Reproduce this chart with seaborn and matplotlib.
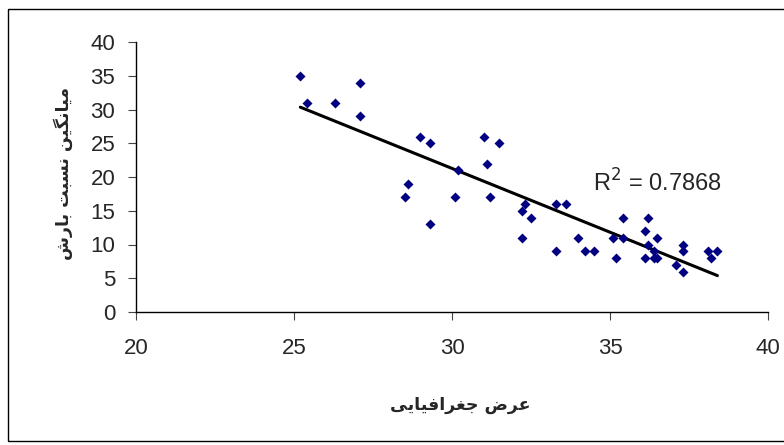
import numpy as np
import matplotlib
matplotlib.use('Agg')
import matplotlib.pyplot as plt
import seaborn as sns
from matplotlib.patches import Rectangle

# latitude (x) and mean precipitation ratio (y)
latitude = [25.2, 25.4, 26.3, 27.1, 27.1, 29.0, 29.3, 28.6, 28.5, 29.3,
            30.2, 30.1, 31.0, 31.1, 31.2, 31.5, 32.3, 32.2, 32.5, 33.3,
            33.6, 32.2, 33.3, 34.0, 34.2, 34.5, 35.2, 35.1, 35.4, 35.4,
            36.2, 36.1, 36.2, 36.5, 36.1, 36.4, 36.4, 36.5, 37.3, 37.3,
            37.1, 37.3, 38.1, 38.2, 38.4]
ratio = [35, 31, 31, 34, 29, 26, 25, 19, 17, 13,
         21, 17, 26, 22, 17, 25, 16, 15, 14, 16,
         16, 11, 9, 11, 9, 9, 8, 11, 11, 14,
         14, 12, 10, 11, 8, 9, 8, 8, 10, 9,
         7, 6, 9, 8, 9]

x_ticks = [20, 25, 30, 35, 40]
y_ticks = [0, 5, 10, 15, 20, 25, 30, 35, 40]
r2_label = 'R$^2$ = 0.7868'
x_title = 'عرض جغرافیایی'
y_title = 'میانگین نسبت بارش'

# minimal Arabic-script shaping (matplotlib has no shaping / bidi)
FORMS = {
    'ا': ('\uFE8D', '\uFE8E'),
    'ر': ('\uFEAD', '\uFEAE'),
    'ب': ('\uFE8F', '\uFE90', '\uFE91', '\uFE92'),
    'ت': ('\uFE95', '\uFE96', '\uFE97', '\uFE98'),
    'ج': ('\uFE9D', '\uFE9E', '\uFE9F', '\uFEA0'),
    'س': ('\uFEB1', '\uFEB2', '\uFEB3', '\uFEB4'),
    'ش': ('\uFEB5', '\uFEB6', '\uFEB7', '\uFEB8'),
    'ض': ('\uFEBD', '\uFEBE', '\uFEBF', '\uFEC0'),
    'ع': ('\uFEC9', '\uFECA', '\uFECB', '\uFECC'),
    'غ': ('\uFECD', '\uFECE', '\uFECF', '\uFED0'),
    'ف': ('\uFED1', '\uFED2', '\uFED3', '\uFED4'),
    'م': ('\uFEE1', '\uFEE2', '\uFEE3', '\uFEE4'),
    'ن': ('\uFEE5', '\uFEE6', '\uFEE7', '\uFEE8'),
    'ی': ('\uFEEF', '\uFEF0', '\uFEF3', '\uFEF4'),
    'گ': ('\uFB92', '\uFB93', '\uFB94', '\uFB95'),
}


def shape(text):
    out = []
    for i, ch in enumerate(text):
        if ch not in FORMS:
            out.append(ch)
            continue
        forms = FORMS[ch]
        prev = text[i - 1] if i > 0 else ''
        nxt = text[i + 1] if i + 1 < len(text) else ''
        join_prev = prev in FORMS and len(FORMS[prev]) == 4
        join_next = nxt in FORMS and len(forms) == 4
        if join_prev and join_next:
            out.append(forms[3])
        elif join_prev:
            out.append(forms[1])
        elif join_next:
            out.append(forms[2])
        else:
            out.append(forms[0])
    return ''.join(reversed(out))


sns.set_style('white')
plt.rcParams['font.family'] = ['Liberation Sans', 'DejaVu Sans']

fig = plt.figure(figsize=(7.84, 4.45), dpi=100)
ax = fig.add_axes([136 / 784, 1 - 312 / 445, 632 / 784, 270 / 445])

sns.regplot(x=latitude, y=ratio, ax=ax, ci=None, truncate=True,
            marker='D',
            scatter_kws={'s': 26, 'color': '#000080', 'alpha': 1,
                         'linewidths': 0, 'zorder': 3},
            line_kws={'color': 'black', 'linewidth': 2.2, 'zorder': 2})

ax.set_xlim(20, 40)
ax.set_ylim(0, 40)
ax.set_xticks(x_ticks)
ax.set_yticks(y_ticks)
ax.tick_params(axis='both', labelsize=16, direction='out', length=6,
               width=0.8, color='#444444')
ax.tick_params(axis='x', pad=13, bottom=True)
ax.tick_params(axis='y', pad=9, left=True)
for s in ['top', 'right']:
    ax.spines[s].set_visible(False)
for s in ['left', 'bottom']:
    ax.spines[s].set_color('black')
    ax.spines[s].set_linewidth(1.0)

ax.text(34.46, 17.8, r2_label, fontsize=17, ha='left', va='baseline')

fig.text(460 / 784, 1 - 405 / 445, shape(x_title), fontsize=12.5,
         fontweight='bold', ha='center', va='center',
         family=['DejaVu Sans'])
fig.text(63 / 784, 1 - 174 / 445, shape(y_title), fontsize=12.5,
         fontweight='bold', ha='center', va='center', rotation=90,
         family=['DejaVu Sans'])

fig.patches.append(Rectangle((8 / 784, 4 / 445), 1.0, 1 - 13 / 445,
                             transform=fig.transFigure, fill=False,
                             edgecolor='black', linewidth=1.0))

fig.savefig('out.png', dpi=100)
